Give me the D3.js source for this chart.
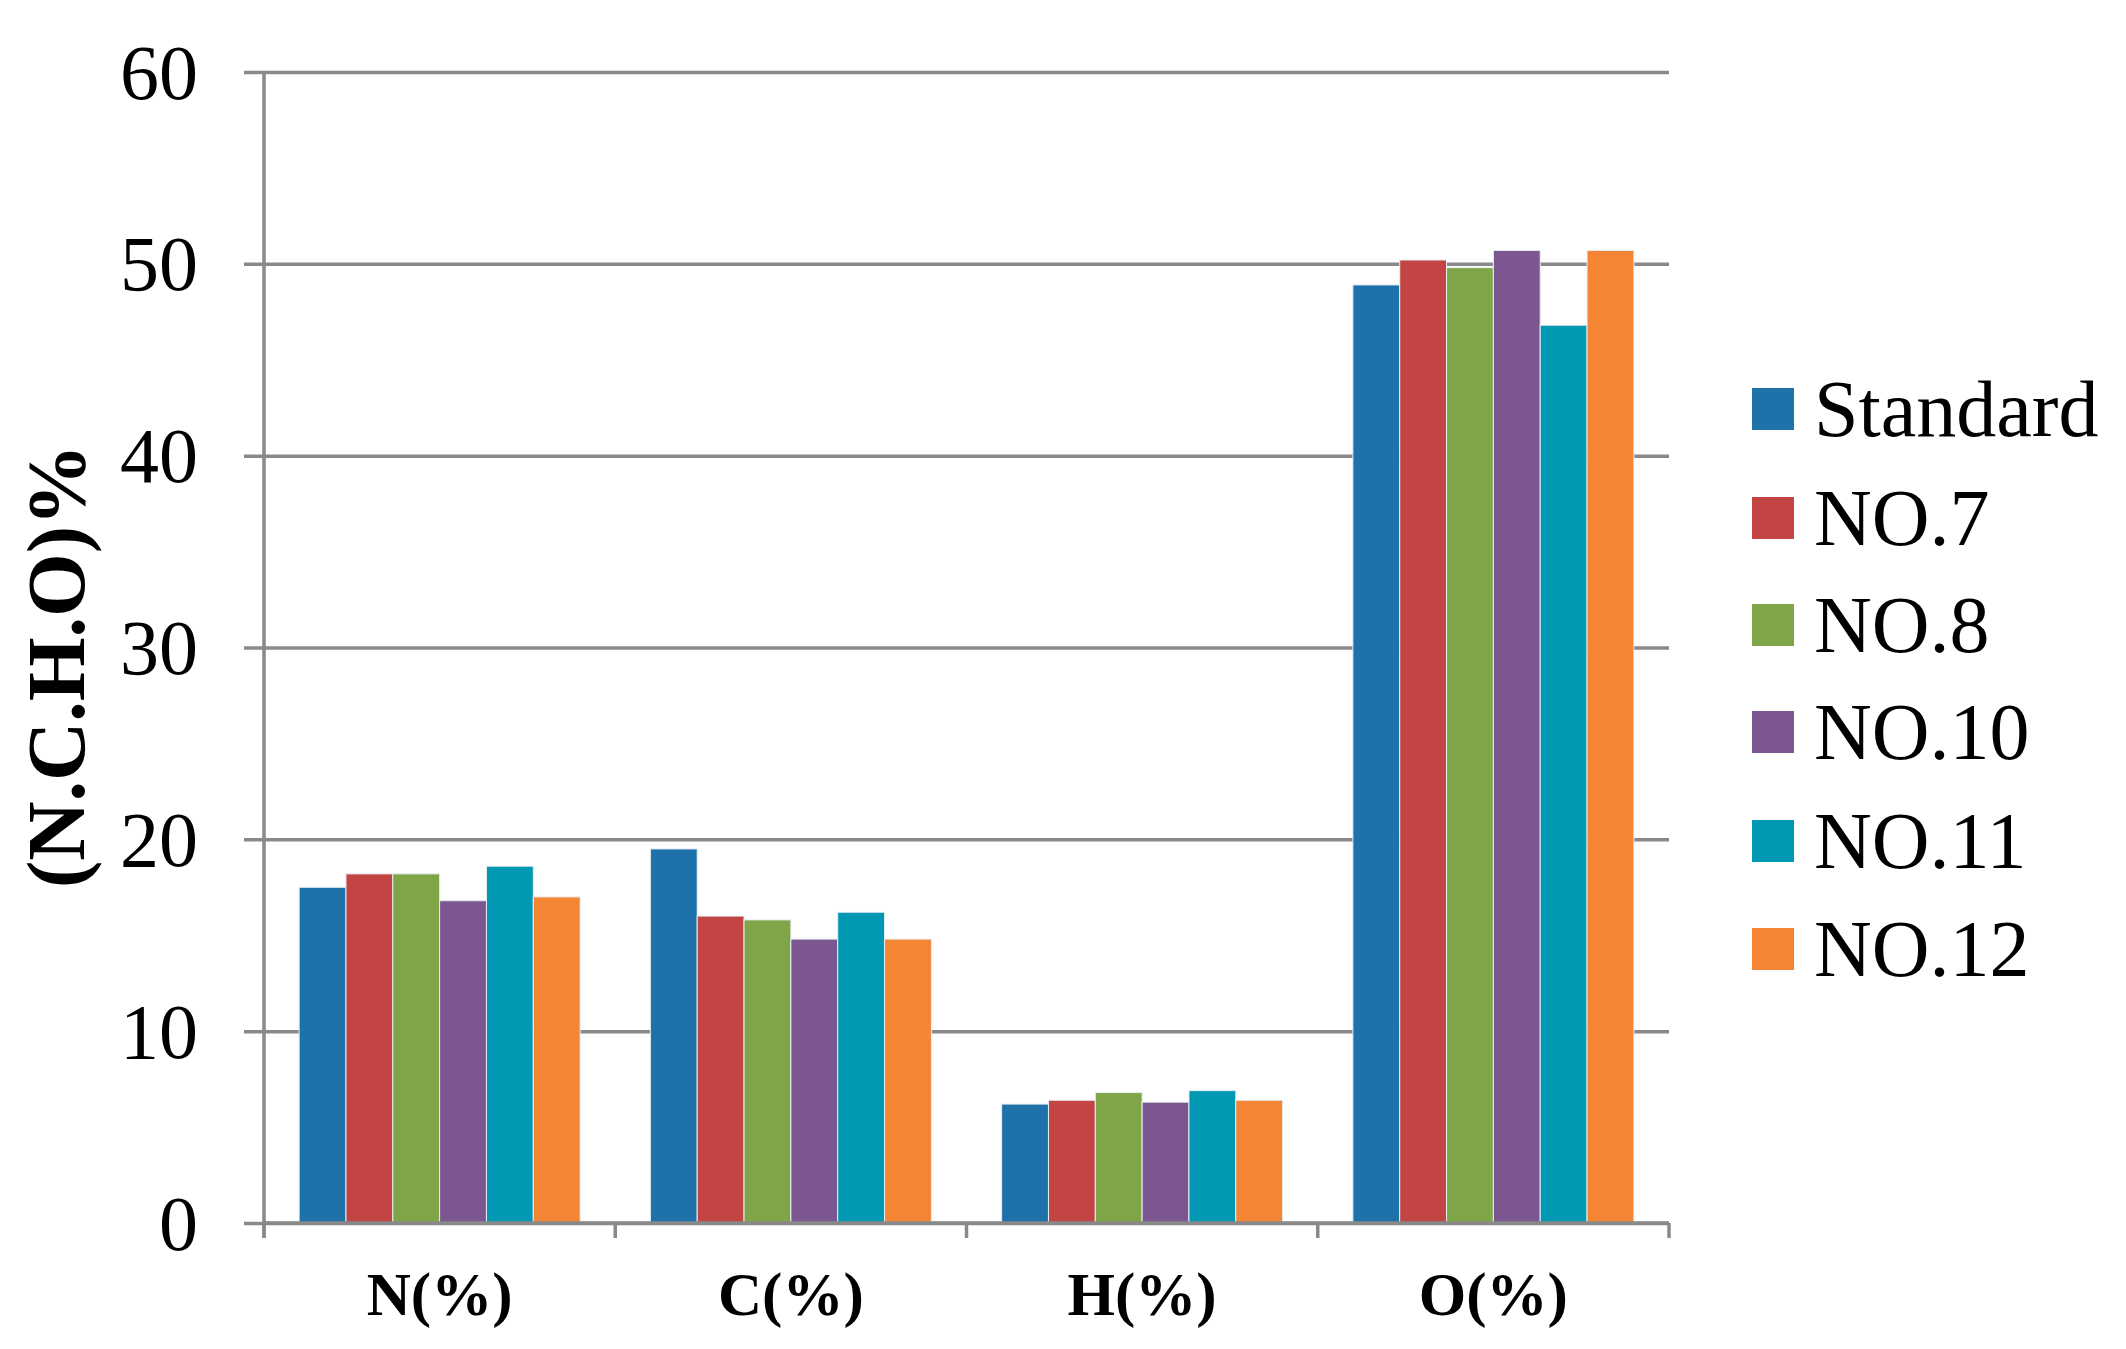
<!DOCTYPE html>
<html>
<head>
<meta charset="utf-8">
<script src="https://cdn.jsdelivr.net/npm/d3@7"></script>
<style>
html,body{margin:0;padding:0;background:#fff;}
svg{display:block;}
text{font-family:"Liberation Serif","Times New Roman",serif;fill:#000;}
</style>
</head>
<body>
<svg id="chart" width="2126" height="1349"></svg>
<script>
const categories = ["N(%)", "C(%)", "H(%)", "O(%)"];
const seriesNames = ["Standard", "NO.7", "NO.8", "NO.10", "NO.11", "NO.12"];
const standard = [17.5, 19.5, 6.2, 48.9];
const no7 = [18.2, 16.0, 6.4, 50.2];
const no8 = [18.2, 15.8, 6.8, 49.8];
const no10 = [16.8, 14.8, 6.3, 50.7];
const no11 = [18.6, 16.2, 6.9, 46.8];
const no12 = [17.0, 14.8, 6.4, 50.7];
const yTicks = [0, 10, 20, 30, 40, 50, 60];
const colors = ["#1E72A9", "#C34543", "#7FA547", "#7C5691", "#0098B2", "#F38535"];
const yTitle = "(N.C.H.O)%";

const values = [standard, no7, no8, no10, no11, no12];

(function () {
const svg = d3.select("#chart");
const pL = 264, pR = 1669, pT = 72, pB = 1223;
const gridColor = "#898989";
const lw = 3.5;

const x0 = d3.scaleBand().domain(categories).range([pL, pR]).padding(0);
const x1 = d3.scaleBand().domain(seriesNames).range([0, x0.bandwidth()]).paddingInner(0).paddingOuter(0.75);
const y = d3.scaleLinear().domain([0, 60]).range([pB, pT]);

// gridlines with left tick stubs
const gAxisY = svg.append("g").attr("transform", `translate(${pL},0)`)
  .call(d3.axisLeft(y).tickValues(yTicks).tickSize(-(pR - pL)).tickFormat(""));
gAxisY.select(".domain").remove();
gAxisY.selectAll(".tick line").attr("stroke", gridColor).attr("stroke-width", lw).attr("x1", -20);

// bars
const groups = svg.append("g").selectAll("g").data(categories).join("g")
  .attr("transform", d => `translate(${x0(d)},0)`);
groups.selectAll("rect")
  .data((c, ci) => seriesNames.map((s, si) => ({s, si, v: values[si][ci]})))
  .join("rect")
  .attr("x", d => x1(d.s))
  .attr("width", x1.bandwidth())
  .attr("y", d => y(d.v))
  .attr("height", d => y(0) - y(d.v))
  .attr("fill", d => colors[d.si])
  .attr("stroke", "#e8eef4")
  .attr("stroke-width", 1);

// y axis line
svg.append("line").attr("x1", pL).attr("x2", pL).attr("y1", pT).attr("y2", pB + 15)
  .attr("stroke", gridColor).attr("stroke-width", lw);

// x axis line and ticks
svg.append("line").attr("x1", pL).attr("x2", pR).attr("y1", pB).attr("y2", pB)
  .attr("stroke", gridColor).attr("stroke-width", lw);
const bounds = categories.map(c => x0(c)).concat([pR]);
svg.append("g").selectAll("line").data(bounds).join("line")
  .attr("x1", d => d).attr("x2", d => d).attr("y1", pB).attr("y2", pB + 15)
  .attr("stroke", gridColor).attr("stroke-width", lw);

// y tick labels
svg.append("g").selectAll("text").data(yTicks).join("text")
  .attr("x", 198).attr("y", d => y(d))
  .attr("dy", "0.34em")
  .attr("text-anchor", "end")
  .style("font-size", "78px")
  .text(d => d);

// x labels
svg.append("g").selectAll("text").data(categories).join("text")
  .attr("x", d => x0(d) + x0.bandwidth() / 2).attr("y", 1315)
  .attr("text-anchor", "middle")
  .style("font-size", "61px").style("font-weight", "bold")
  .text(d => d);

// y title
svg.append("text")
  .attr("transform", `translate(84,666) rotate(-90)`)
  .attr("text-anchor", "middle")
  .style("font-size", "82px").style("font-weight", "bold")
  .text(yTitle);

// legend
const legendY = [409, 518, 625, 732, 841, 949];
const lg = svg.append("g").selectAll("g").data(seriesNames).join("g")
  .attr("transform", (d, i) => `translate(1752,${legendY[i]})`);
lg.append("rect").attr("x", 0).attr("y", -21).attr("width", 42).attr("height", 42)
  .attr("fill", (d, i) => colors[i]);
lg.append("text").attr("x", 62).attr("y", 0).attr("dy", "0.34em")
  .style("font-size", "80px")
  .text(d => d);
})();
</script>
</body>
</html>
